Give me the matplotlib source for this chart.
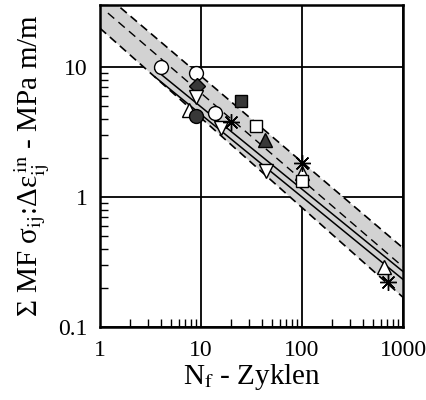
import numpy as np
import matplotlib
matplotlib.use("Agg")
import matplotlib.pyplot as plt

plt.rcParams['font.family'] = ['Liberation Serif', 'DejaVu Serif']
plt.rcParams['mathtext.fontset'] = 'stix'

# scatter band (upper / lower edge), end points in data units
band_x = [1, 1000]
band_hi = [39.0, 0.405]
band_lo = [19.9, 0.169]

# fitted lines
mid_x = [1.2, 1000]
mid_y = [26.0, 0.29]
fit1_x = [3.5, 1000]
fit1_y = [9.6, 0.267]
fit2_x = [3.5, 1000]
fit2_y = [8.4, 0.232]

# measured points
open_circ_x = [4.0, 8.9, 13.8]
open_circ_y = [10.0, 9.0, 4.4]
fill_diam_x = [9.1]
fill_diam_y = [7.1]
open_down_x = [8.9, 15.8, 44]
open_down_y = [5.9, 3.4, 1.59]
open_up_x = [7.6, 100, 650]
open_up_y = [4.67, 1.53, 0.29]
fill_circ_x = [8.9]
fill_circ_y = [4.2]
fill_sq_x = [24.9]
fill_sq_y = [5.5]
star_x = [19.8, 100, 709]
star_y = [3.77, 1.83, 0.222]
open_sq_x = [35, 100]
open_sq_y = [3.5, 1.33]
fill_up_x = [43]
fill_up_y = [2.74]

fig = plt.figure(figsize=(4.27, 4.0), dpi=100)
ax = fig.add_axes([0.234, 0.1825, 0.71, 0.805])
ax.set_xscale('log')
ax.set_yscale('log')
ax.set_xlim(1, 1000)
ax.set_ylim(0.1, 30)

ax.grid(True, which='major', color='black', linewidth=1.3, zorder=0)
ax.set_axisbelow(True)

# band
xb = np.array(band_x, dtype=float)
ax.fill_between(xb, band_lo, band_hi, color='#d2d2d2', zorder=1, linewidth=0)
ax.plot(band_x, band_hi, color='black', linestyle=(0, (5, 3)), linewidth=1.2, zorder=2)
ax.plot(band_x, band_lo, color='black', linestyle=(0, (5, 3)), linewidth=1.2, zorder=2)
ax.plot(mid_x, mid_y, color='black', linestyle=(0, (6, 4)), linewidth=1.0, zorder=2)
ax.plot(fit1_x, fit1_y, color='black', linewidth=1.1, zorder=2)
ax.plot(fit2_x, fit2_y, color='black', linewidth=1.1, zorder=2)

dark = '#383838'
ms = 10
kw = dict(linestyle='none', markeredgecolor='black', markeredgewidth=1.0, zorder=4)
ax.plot(open_circ_x, open_circ_y, marker='o', markersize=ms, markerfacecolor='white', **kw)
ax.plot(fill_diam_x, fill_diam_y, marker='D', markersize=8, markerfacecolor=dark, **kw)
ax.plot(open_down_x, open_down_y, marker='v', markersize=ms, markerfacecolor='white', **kw)
ax.plot(open_up_x, open_up_y, marker='^', markersize=ms, markerfacecolor='white', **kw)
ax.plot(fill_circ_x, fill_circ_y, marker='o', markersize=ms, markerfacecolor=dark, **kw)
ax.plot(fill_sq_x, fill_sq_y, marker='s', markersize=9, markerfacecolor=dark, **kw)
ax.plot(open_sq_x, open_sq_y, marker='s', markersize=9, markerfacecolor='white', **kw)
ax.plot(fill_up_x, fill_up_y, marker='^', markersize=ms, markerfacecolor=dark, **kw)
ax.plot(star_x, star_y, marker=(8, 2, 0), markersize=12, color='black',
        linestyle='none', markeredgewidth=1.0, zorder=5)

ax.set_xticks([1, 10, 100, 1000])
ax.set_xticklabels(['1', '10', '100', '1000'])
ax.set_yticks([0.1, 1, 10])
ax.set_yticklabels(['0.1', '1', '10'])
ax.tick_params(which='both', direction='in', top=False, right=False, labelsize=17)
ax.tick_params(which='major', length=0, pad=9)
ax.tick_params(which='minor', length=6, width=1.0)

for s in ax.spines.values():
    s.set_linewidth(1.8)

ax.set_xlabel(r'N$_\mathrm{f}$ - Zyklen', fontsize=21, labelpad=1)
ax.set_ylabel(r'Σ MF σ$_{\mathrm{ij}}$:Δε$_{\mathrm{ij}}^{\,\mathrm{in}}$ - MPa m/m',
              fontsize=21, labelpad=4)

fig.savefig('out.png', dpi=100)
